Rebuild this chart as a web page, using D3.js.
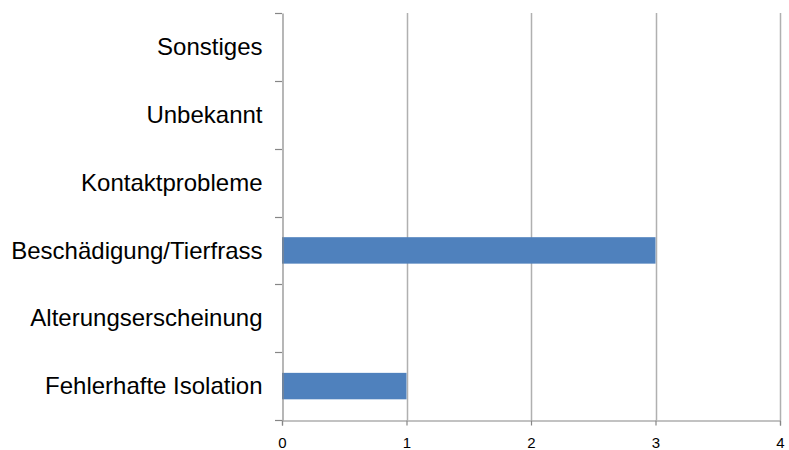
<!DOCTYPE html>
<html>
<head>
<meta charset="utf-8">
<script src="https://cdn.jsdelivr.net/npm/d3@7"></script>
<style>
  html, body { margin: 0; padding: 0; background: #fff; }
  svg { display: block; }
  text { font-family: "Liberation Sans", Arial, sans-serif; fill: #000; }
</style>
</head>
<body>
<svg id="chart" width="789" height="450"></svg>
<script>
// Causes of defects, listed top to bottom
const categories = [
  "Sonstiges",
  "Unbekannt",
  "Kontaktprobleme",
  "Beschädigung/Tierfrass",
  "Alterungserscheinung",
  "Fehlerhafte Isolation"
];
const counts = [0, 0, 0, 3, 0, 1];
const xTicks = [0, 1, 2, 3, 4];

const width = 789, height = 450;
const margin = { top: 13, right: 9, bottom: 30, left: 282 };
const svg = d3.select("#chart");

const x = d3.scaleLinear().domain([0, 4]).range([margin.left, width - margin.right]);
const y = d3.scaleBand().domain(categories).range([margin.top, height - margin.bottom]).padding(0);

// vertical gridlines
svg.append("g")
  .selectAll("line")
  .data(xTicks.filter(d => d > 0))
  .join("line")
  .attr("x1", d => Math.round(x(d)) + 0.5)
  .attr("x2", d => Math.round(x(d)) + 0.5)
  .attr("y1", margin.top)
  .attr("y2", height - margin.bottom)
  .attr("stroke", "#b0b0b0")
  .attr("stroke-width", 1.5);

// bars
const barH = y.bandwidth() * 0.39;
svg.append("g")
  .selectAll("rect")
  .data(categories.map((c, i) => ({ c, v: counts[i] })))
  .join("rect")
  .attr("x", x(0))
  .attr("y", d => y(d.c) + (y.bandwidth() - barH) / 2)
  .attr("width", d => x(d.v) - x(0))
  .attr("height", barH)
  .attr("fill", "#4f81bd");

// category axis
const yAxis = svg.append("g")
  .attr("transform", `translate(${Math.round(margin.left) + 0.5},0)`)
  .call(d3.axisLeft(y).tickSize(0).tickPadding(20));
yAxis.select(".domain").attr("stroke", "#868686").attr("stroke-width", 1.2);
yAxis.selectAll("text").style("font-size", "24px").attr("dy", "0.34em");

// category separators
svg.append("g")
  .selectAll("line")
  .data(d3.range(categories.length + 1))
  .join("line")
  .attr("x1", margin.left - 7)
  .attr("x2", margin.left)
  .attr("y1", i => Math.round(margin.top + i * y.step()) + 0.5)
  .attr("y2", i => Math.round(margin.top + i * y.step()) + 0.5)
  .attr("stroke", "#868686")
  .attr("stroke-width", 1.2);

// value axis
const xAxis = svg.append("g")
  .attr("transform", `translate(0,${height - margin.bottom + 0.5})`)
  .call(d3.axisBottom(x).tickValues(xTicks).tickFormat(d3.format("d")).tickSize(5).tickPadding(12));
xAxis.select(".domain").attr("stroke", "#868686").attr("stroke-width", 1.2);
xAxis.selectAll(".tick line").attr("stroke", "#868686").attr("stroke-width", 1.2);
xAxis.selectAll(".tick text").style("font-size", "15px");
</script>
</body>
</html>
